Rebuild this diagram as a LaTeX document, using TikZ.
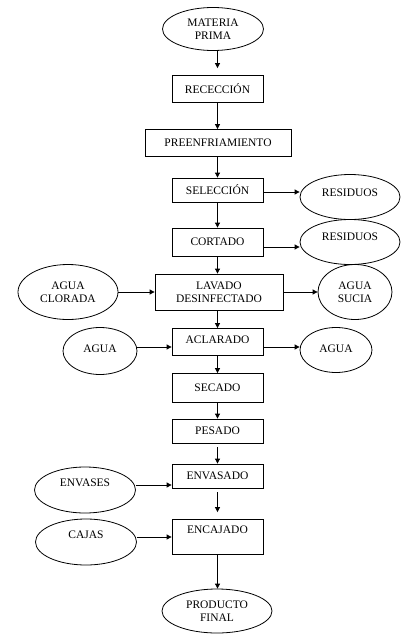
\documentclass[tikz,border=0pt]{standalone}
\usepackage{fontspec}
\setmainfont{Liberation Serif}
\usetikzlibrary{arrows.meta,shapes.geometric}

\tikzset{
  paso/.style={draw,thick,rectangle,inner sep=0pt,align=center},
  entrada/.style={draw,thick,ellipse,inner sep=0pt,align=center},
  flecha/.style={->,thick,>={Triangle[length=5pt,width=5pt]}}
}

\begin{document}
\begin{tikzpicture}[x=1pt,y=-1pt,font=\fontsize{11.5}{13.5}\selectfont,line width=0.6pt]
    \useasboundingbox[fill=white] (0,0) rectangle (404,640);
    % Process steps
    \node[paso,minimum width=91pt,minimum height=27pt] (rec) at (217.5,89) {RECECCIÓN};
    \node[paso,minimum width=146pt,minimum height=27pt] (pre) at (218,143) {PREENFRIAMIENTO};
    \node[paso,minimum width=91pt,minimum height=24pt] (sel) at (217.5,190) {SELECCIÓN};
    \node[paso,minimum width=91pt,minimum height=28pt] (cort) at (217.5,242) {CORTADO};
    \node[paso,minimum width=128pt,minimum height=36pt] (lav) at (219,292) {LAVADO\\DESINFECTADO};
    \node[paso,minimum width=91pt,minimum height=27pt,text depth=4pt] (acl) at (217.5,342) {ACLARADO};
    \node[paso,minimum width=91pt,minimum height=29pt] (sec) at (217.5,388) {SECADO};
    \node[paso,minimum width=91pt,minimum height=24pt] (pes) at (217.5,431) {PESADO};
    \node[paso,minimum width=91pt,minimum height=24pt] (env) at (217.5,476) {ENVASADO};
    \node[paso,minimum width=91pt,minimum height=35pt,text depth=14pt] (enc) at (217.5,537) {ENCAJADO};

    % Inputs and outputs
    \node[entrada,minimum width=101pt,minimum height=43pt] (mp) at (213,29) {MATERIA\\PRIMA};
    \node[entrada,minimum width=100pt,minimum height=45pt,text depth=8pt] (res1) at (350,197) {RESIDUOS};
    \node[entrada,minimum width=100pt,minimum height=45pt,text depth=10pt] (res2) at (350,242) {RESIDUOS};
    \node[entrada,minimum width=100pt,minimum height=55pt] (clor) at (68,292) {AGUA\\CLORADA};
    \node[entrada,minimum width=74pt,minimum height=55pt] (sucia) at (355,292) {AGUA\\SUCIA};
    \node[entrada,minimum width=74pt,minimum height=47pt,text depth=4pt] (agua1) at (100,351) {AGUA};
    \node[entrada,minimum width=72pt,minimum height=45pt,text depth=2pt] (agua2) at (336,350) {AGUA};
    \node[entrada,minimum width=101pt,minimum height=46pt,text depth=14pt] (envs) at (85,490) {ENVASES};
    \node[entrada,minimum width=101pt,minimum height=46pt,text depth=14pt] (cajas) at (86,542) {CAJAS};
    \node[entrada,minimum width=110pt,minimum height=44pt] (pf) at (217,611) {PRODUCTO\\FINAL};

    % Main flow
    \draw[flecha,shorten >=7pt] (rec.north |- mp.south) -- (rec.north);
    \draw[flecha] (rec) -- (rec.south |- pre.north);
    \draw[flecha] (rec.south |- pre.south) -- (sel.north);
    \draw[flecha] (sel) -- (cort);
    \draw[flecha] (cort.south) -- (cort.south |- lav.north);
    \draw[flecha] (acl.north |- lav.south) -- (acl.north);
    \draw[flecha] (acl) -- (sec);
    \draw[flecha] (sec) -- (pes);
    \draw[flecha,shorten <=4pt] (pes) -- (env);
    \draw[flecha,shorten <=4pt,shorten >=7pt] (env) -- (enc);
    \draw[flecha] (enc) -- (enc.south |- pf.north);

    % Side flows
    \draw[flecha] ([yshift=-2pt]sel.east) -- ([yshift=-2pt]sel.east -| res1.west);
    \draw[flecha] ([yshift=-5pt]cort.east) -- ([yshift=-5pt]cort.east -| res2.west);
    \draw[flecha] (clor) -- (lav);
    \draw[flecha] (lav) -- (sucia);
    \draw[flecha] ([yshift=-5pt]acl.west -| agua1.east) -- ([yshift=-5pt]acl.west);
    \draw[flecha] ([yshift=-5pt]acl.east) -- ([yshift=-5pt]acl.east -| agua2.west);
    \draw[flecha] ([yshift=-9pt]env.west -| envs.east) -- ([yshift=-9pt]env.west);
    \draw[flecha] (enc.west -| cajas.east) -- (enc.west);
\end{tikzpicture}
\end{document}
